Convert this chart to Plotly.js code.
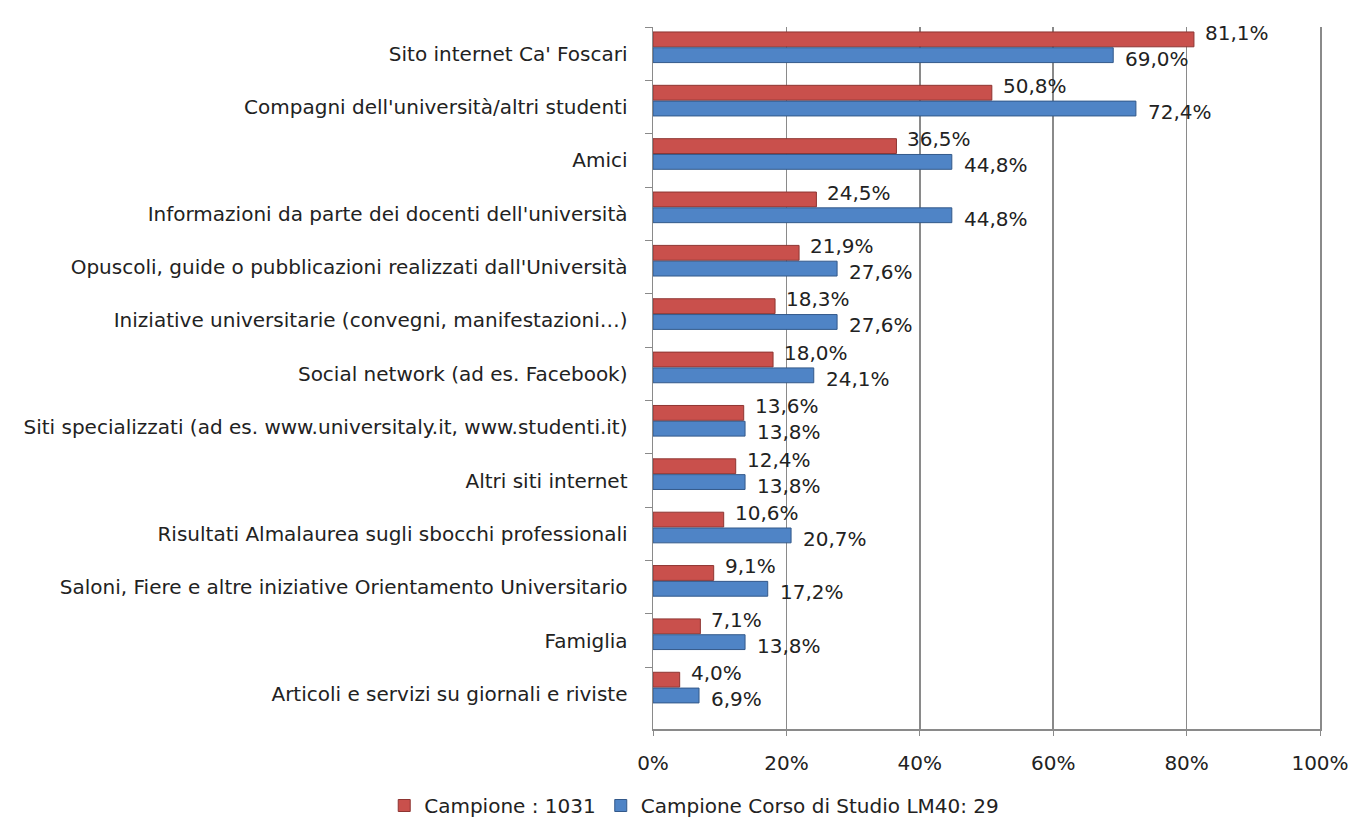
<!DOCTYPE html>
<html>
<head>
<meta charset="utf-8">
<script src="https://cdn.plot.ly/plotly-3.0.1.min.js"></script>
<style>html,body{margin:0;padding:0;background:#fff;}#chart{width:1348px;height:825px;}</style>
</head>
<body>
<div id="chart"></div>
<script>
const categories = [
  "Sito internet Ca' Foscari",
  "Compagni dell'università/altri studenti",
  "Amici",
  "Informazioni da parte dei docenti dell'università",
  "Opuscoli, guide o pubblicazioni realizzati dall'Università",
  "Iniziative universitarie (convegni, manifestazioni…)",
  "Social network (ad es. Facebook)",
  "Siti specializzati (ad es. www.universitaly.it, www.studenti.it)",
  "Altri siti internet",
  "Risultati Almalaurea sugli sbocchi professionali",
  "Saloni, Fiere e altre iniziative Orientamento Universitario",
  "Famiglia",
  "Articoli e servizi su giornali e riviste"
];
const campione = [81.1, 50.8, 36.5, 24.5, 21.9, 18.3, 18.0, 13.6, 12.4, 10.6, 9.1, 7.1, 4.0];
const campioneLM40 = [69.0, 72.4, 44.8, 44.8, 27.6, 27.6, 24.1, 13.8, 13.8, 20.7, 17.2, 13.8, 6.9];
const seriesNames = ["Campione : 1031", "Campione Corso di Studio LM40: 29"];
const xTickVals = [0, 20, 40, 60, 80, 100];

const FONT = "DejaVu Sans, sans-serif";
const TXT = "#222222";
const FS = 20;
const fmt = v => v.toFixed(1).replace('.', ',') + '%';

const traces = [
  {
    type: 'bar', orientation: 'h', name: seriesNames[0],
    y: categories, x: campione,
    offset: -0.407, width: 0.278,
    marker: {color: '#C9504C', line: {color: '#8E3532', width: 1}},
    hoverinfo: 'x+y'
  },
  {
    type: 'bar', orientation: 'h', name: seriesNames[1],
    y: categories, x: campioneLM40,
    offset: -0.111, width: 0.278,
    marker: {color: '#4F84C6', line: {color: '#33598A', width: 1}},
    hoverinfo: 'x+y'
  }
];

const annotations = [];
categories.forEach((c, i) => {
  annotations.push({x: campione[i], y: c, xref: 'x', yref: 'y', text: fmt(campione[i]),
    showarrow: false, xanchor: 'left', yanchor: 'middle', xshift: 9, yshift: 21,
    font: {family: FONT, size: FS, color: TXT}});
  annotations.push({x: campioneLM40[i], y: c, xref: 'x', yref: 'y', text: fmt(campioneLM40[i]),
    showarrow: false, xanchor: 'left', yanchor: 'middle', xshift: 10, yshift: -5,
    font: {family: FONT, size: FS, color: TXT}});
});

const layout = {
  width: 1348, height: 825,
  margin: {l: 653, r: 28, t: 27, b: 96},
  paper_bgcolor: '#ffffff', plot_bgcolor: '#ffffff',
  font: {family: FONT, size: FS, color: TXT},
  barmode: 'overlay',
  showlegend: true,
  legend: {
    orientation: 'h', xref: 'container', yref: 'container',
    x: 0.515, xanchor: 'center', y: -0.006, yanchor: 'bottom',
    font: {family: FONT, size: FS, color: TXT},
    traceorder: 'normal', itemwidth: 30
  },
  xaxis: {
    range: [0, 100], tickvals: xTickVals, ticktext: xTickVals.map(v => v + '%'),
    showgrid: true, gridcolor: '#8a8a8a', gridwidth: 1.5,
    zeroline: false, showline: true, linecolor: '#8a8a8a', linewidth: 1.5,
    ticks: 'outside', ticklen: 5, tickcolor: '#8a8a8a',
    ticklabelstandoff: 10, ticklabeloverflow: 'allow',
    fixedrange: true, automargin: false
  },
  yaxis: {
    type: 'category', autorange: 'reversed',
    showline: true, mirror: true, linecolor: '#8a8a8a', linewidth: 1.5,
    ticks: 'outside', ticklen: 7, tickcolor: '#8a8a8a', tickson: 'boundaries',
    showgrid: false, zeroline: false, ticklabelstandoff: 20,
    fixedrange: true, automargin: false
  },
  annotations: annotations
};

Plotly.newPlot('chart', traces, layout, {displayModeBar: false, staticPlot: true});
</script>
</body>
</html>
